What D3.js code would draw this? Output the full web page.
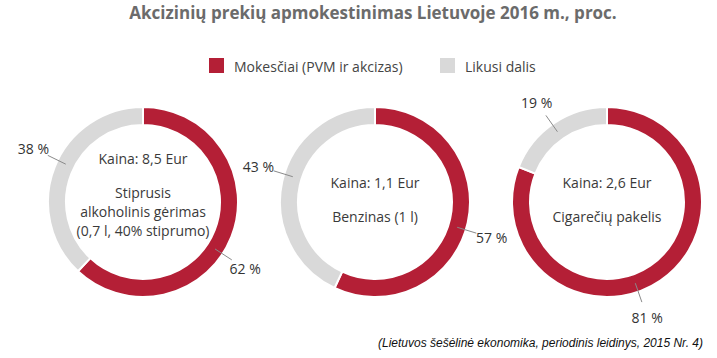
<!DOCTYPE html>
<html>
<head>
<meta charset="utf-8">
<script src="https://cdn.jsdelivr.net/npm/d3@7/dist/d3.min.js"></script>
<style>
  html, body { margin: 0; padding: 0; background: #fff; }
  svg { display: block; font-family: "Open Sans", sans-serif; }
</style>
</head>
<body>
<svg id="chart" width="717" height="358"></svg>
<script>
// ---- data ----
const title = "Akcizinių prekių apmokestinimas Lietuvoje 2016 m., proc.";
const seriesNames = ["Mokesčiai (PVM ir akcizas)", "Likusi dalis"];
const products = [
  ["Stiprusis", "alkoholinis gėrimas", "(0,7 l, 40% stiprumo)"],
  ["Benzinas (1 l)"],
  ["Cigarečių pakelis"]
];
const prices = ["8,5", "1,1", "2,6"];
const taxShare = [62, 57, 81];
const restShare = [38, 43, 19];
const source = "(Lietuvos šešėlinė ekonomika, periodinis leidinys, 2015 Nr. 4)";

// ---- layout / style ----
const colors = ["#b41f36", "#d9d9d9"];
const labelNudgeDeg = [[11.5, 4.5], [4.5, 4.5], [15, -1]];
const textShift = [-5, 0, 0];

const svg = d3.select("#chart");

svg.append("text")
  .attr("x", 373).attr("y", 12)
  .attr("text-anchor", "middle").attr("dominant-baseline", "central")
  .attr("font-size", 17).attr("font-weight", 700).attr("fill", "#6b6b6b")
  .text(title);

// legend
const legendX = [209, 440];
const lg = svg.append("g");
seriesNames.forEach((n, i) => {
  lg.append("rect").attr("x", legendX[i]).attr("y", 58).attr("width", 15).attr("height", 15)
    .attr("fill", colors[i]);
  lg.append("text").attr("x", legendX[i] + 25).attr("y", 66)
    .attr("dominant-baseline", "central").attr("font-size", 14).attr("fill", "#444")
    .text(n);
});

const x = d3.scalePoint().domain(d3.range(products.length)).range([143, 607]);
const cy = 202;
const rOuter = 95, rInner = 77;
const pie = d3.pie().sort(null).value(d => d);
const arc = d3.arc().innerRadius(rInner).outerRadius(rOuter);
const pt = (a, r) => [Math.sin(a) * r, -Math.cos(a) * r];

products.forEach((prod, i) => {
  const g = svg.append("g").attr("transform", `translate(${x(i)},${cy})`);
  const arcs = pie([taxShare[i], restShare[i]]);
  g.selectAll("path").data(arcs).join("path")
    .attr("d", arc)
    .attr("fill", (d, j) => colors[j])
    .attr("stroke", "#fff").attr("stroke-width", 2);

  arcs.forEach((d, j) => {
    const a = (d.startAngle + d.endAngle) / 2 + labelNudgeDeg[i][j] * Math.PI / 180;
    const p1 = pt(a, 86), p2 = pt(a, 106), p3 = pt(a, 122);
    g.append("line").attr("x1", p1[0]).attr("y1", p1[1]).attr("x2", p2[0]).attr("y2", p2[1])
      .attr("stroke", "#8a8a8a").attr("stroke-width", 1);
    g.append("text").attr("x", p3[0]).attr("y", p3[1])
      .attr("text-anchor", "middle").attr("dominant-baseline", "central")
      .attr("font-size", 14).attr("fill", "#333")
      .text(d.data + " %");
  });

  const lhProd = 19, gap = 34.5;
  const kainaY = -20 - (prod.length - 1) * lhProd / 2 + textShift[i];
  g.append("text")
    .attr("x", 0).attr("y", kainaY)
    .attr("text-anchor", "middle").attr("dominant-baseline", "central")
    .attr("font-size", 14).attr("fill", "#3a3a3a")
    .text("Kaina: " + prices[i] + " Eur");
  prod.forEach((s, k) => {
    g.append("text")
      .attr("x", 0).attr("y", kainaY + gap + k * lhProd)
      .attr("text-anchor", "middle").attr("dominant-baseline", "central")
      .attr("font-size", 14).attr("fill", "#3a3a3a")
      .text(s);
  });
});

svg.append("text")
  .attr("x", 703).attr("y", 343)
  .attr("text-anchor", "end").attr("dominant-baseline", "central")
  .attr("font-size", 12).attr("font-style", "italic").attr("fill", "#111")
  .attr("font-family", "'Liberation Sans', sans-serif")
  .attr("textLength", 325).attr("lengthAdjust", "spacingAndGlyphs")
  .text(source);
</script>
</body>
</html>
